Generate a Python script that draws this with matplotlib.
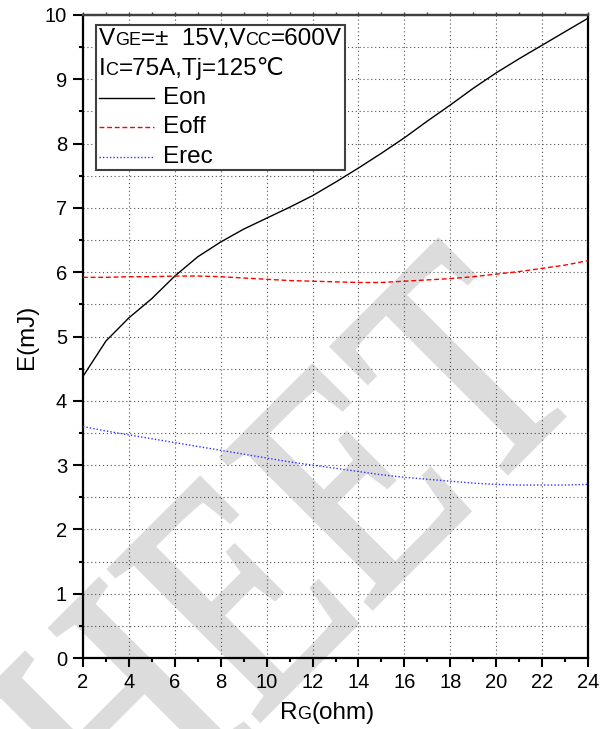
import numpy as np
import matplotlib
matplotlib.use('Agg')
import matplotlib.pyplot as plt
from matplotlib.ticker import MultipleLocator
from matplotlib.offsetbox import TextArea, HPacker, VPacker, DrawingArea, AnchoredOffsetbox
from matplotlib.lines import Line2D
from matplotlib.textpath import TextPath
from matplotlib.patches import PathPatch
from matplotlib.font_manager import FontProperties
from matplotlib.transforms import Affine2D

plt.rcParams['font.family'] = ['Liberation Sans', 'DejaVu Sans']

rg = [2, 3, 4, 5, 6, 7, 8, 9, 10, 11, 12, 13, 14, 15, 16, 17, 18, 19, 20, 21, 22, 23, 24]
eon = [4.38, 4.93, 5.29, 5.59, 5.94, 6.24, 6.47, 6.67, 6.84, 7.01, 7.19, 7.40, 7.62,
       7.85, 8.09, 8.35, 8.60, 8.86, 9.10, 9.32, 9.53, 9.74, 9.95]
eoff = [5.92, 5.92, 5.93, 5.93, 5.94, 5.94, 5.93, 5.91, 5.89, 5.87, 5.86, 5.85, 5.84,
        5.84, 5.86, 5.88, 5.90, 5.93, 5.97, 6.01, 6.06, 6.11, 6.18]
erec = [3.60, 3.53, 3.47, 3.41, 3.35, 3.29, 3.23, 3.17, 3.11, 3.05, 3.00, 2.95, 2.90,
        2.85, 2.81, 2.78, 2.75, 2.72, 2.70, 2.69, 2.69, 2.69, 2.70]

series = [('Eon', eon, 'black', '-'),
          ('Eoff', eoff, '#ff0000', (0, (3.5, 2))),
          ('Erec', erec, '#3030ff', (0, (1, 1.5)))]

fig = plt.figure(figsize=(6.05, 7.29), dpi=100)
ax = fig.add_axes([83/605, 71/729, 505/605, 643/729])
ax.set_facecolor('none')

for name, vals, col, ls in series:
    ax.plot(rg, vals, color=col, ls=ls, lw=1.0, zorder=3)

ax.set_xlim(2, 24)
ax.set_ylim(0, 10)
ax.xaxis.set_major_locator(MultipleLocator(2))
ax.xaxis.set_minor_locator(MultipleLocator(1))
ax.yaxis.set_major_locator(MultipleLocator(1))
ax.yaxis.set_minor_locator(MultipleLocator(0.5))

gridkw = dict(ls=(0, (1, 2.5)), color='#505050', lw=0.8)
ax.grid(axis='x', which='major', **gridkw)
ax.grid(axis='y', which='both', **gridkw)
ax.set_axisbelow(True)

ax.tick_params(which='major', direction='out', length=6.5, width=1.5, labelsize=14.5, pad=4)
ax.tick_params(which='minor', direction='out', length=3, width=1.5)
ax.tick_params(axis='y', which='major', length=7.5)
for sp in ax.spines.values():
    sp.set_linewidth(1.6)
ax.spines['top'].set_color('#404040')

sec = ax.secondary_xaxis('top')
sec.xaxis.set_major_locator(MultipleLocator(2))
sec.xaxis.set_minor_locator(MultipleLocator(1))
sec.tick_params(which='both', direction='out', length=2.5, width=1, labeltop=False, colors='#404040')
sec.spines['top'].set_linewidth(1.6)
sec.spines['top'].set_color('#404040')

ax.set_ylabel('E(mJ)', fontsize=17.5, labelpad=5)

# x label with small-caps style subscript
big = dict(fontsize=17.5, color='black')
small = dict(fontsize=13, color='black')
xl = HPacker(children=[TextArea('R', textprops=big), TextArea('G', textprops=small),
                       TextArea('(ohm)', textprops=big)], align='baseline', pad=0, sep=0)
fig.add_artist(AnchoredOffsetbox(loc='center', child=xl, frameon=False, pad=0, borderpad=0,
                                 bbox_to_anchor=(327/605, 1-713/729),
                                 bbox_transform=fig.transFigure))

# legend box
hb = dict(fontsize=17.5, color='black')
hs = dict(fontsize=13, color='black')
row1 = HPacker(children=[TextArea('V', textprops=hb), TextArea('GE', textprops=hs),
                         TextArea('=\u00b1  15V,V', textprops=hb), TextArea('CC', textprops=hs),
                         TextArea('=600V', textprops=hb)], align='baseline', pad=0, sep=0)
row2 = HPacker(children=[TextArea('I', textprops=hb), TextArea('C', textprops=hs),
                         TextArea('=75A,Tj=125\u2103', textprops=hb)], align='baseline', pad=0, sep=0)
rows = [row1, row2]
for name, vals, col, ls in series:
    da = DrawingArea(40, 12, 0, 0)
    da.add_artist(Line2D([0, 40], [6, 6], color=col, ls=ls, lw=1.0))
    rows.append(HPacker(children=[da, TextArea(name, textprops=hb)], align='center', pad=0, sep=6))
vp = VPacker(children=rows, align='left', pad=0, sep=5.2)
leg = AnchoredOffsetbox(loc='upper left', child=vp, pad=0.2, borderpad=0, frameon=True,
                        bbox_to_anchor=(96/605, 1-25/729), bbox_transform=fig.transFigure)
leg.patch.set_edgecolor('#404040')
leg.patch.set_linewidth(1.5)
leg.patch.set_boxstyle('square', pad=0)
leg.zorder = 5
ax.add_artist(leg)

# watermark (condensed serif letters, rotated 45 deg), drawn under the plot content
fp = FontProperties(family='Liberation Serif')
wm = TextPath((0, 0), 'HEET', size=100, prop=fp)
x3 = TextPath((0, 0), 'HE', size=100, prop=fp).vertices[:, 0].max() + 1
tr = Affine2D().translate(-x3, 0).scale(2.6, 3.25).rotate_deg(45).translate(360, 729 - 620)
fig.add_artist(PathPatch(wm, transform=tr, facecolor='#dcdcdc', edgecolor='#dcdcdc',
                         lw=3.5, zorder=-1))

fig.savefig('out.png', dpi=100)
